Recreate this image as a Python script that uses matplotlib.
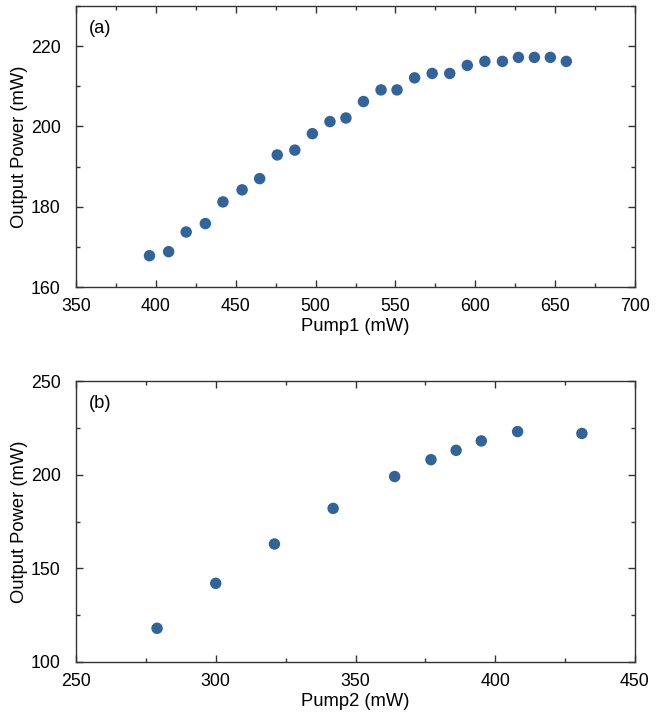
import matplotlib.pyplot as plt

plt.rcParams['font.family'] = ['Liberation Sans', 'DejaVu Sans']
plt.rcParams['font.size'] = 13.2

# Datos panel (a)
pump1 = [396, 408, 419, 431, 442, 454, 465, 476, 487, 498, 509,
         519, 530, 541, 551, 562, 573, 584, 595, 606, 617, 627, 637, 647, 657]
salida1 = [167.8, 168.8, 173.7, 175.8, 181.2, 184.2, 187.0, 192.9, 194.1, 198.2, 201.2,
           202.1, 206.2, 209.1, 209.1, 212.1, 213.2, 213.2, 215.2, 216.2, 216.2, 217.2, 217.2, 217.2, 216.2]

# Datos panel (b)
pump2 = [279, 300, 321, 342, 364, 377, 386, 395, 408, 431]
salida2 = [118, 142, 163, 182, 199, 208, 213, 218, 223, 222]

color = '#31649b'

fig = plt.figure(figsize=(6.66, 7.14), dpi=100)
ax1 = fig.add_axes([76/666, 1-287/714, 559/666, 281/714])
ax2 = fig.add_axes([76/666, 1-662/714, 559/666, 281/714])

def estilo(ax, xlim, ylim, xticks, yticks, xminor, yminor):
    ax.set_xlim(*xlim)
    ax.set_ylim(*ylim)
    ax.set_xticks(xticks)
    ax.set_yticks(yticks)
    ax.set_xticks(xminor, minor=True)
    ax.set_yticks(yminor, minor=True)
    ax.tick_params(which='both', direction='in', top=True, right=True, colors='#333333', labelcolor='black')
    ax.tick_params(which='major', length=5, width=1, labelsize=12.8)
    ax.tick_params(which='minor', length=3, width=1)
    ax.tick_params(axis='x', pad=8)
    ax.tick_params(axis='y', pad=11)
    for s in ax.spines.values():
        s.set_color('#333333')
        s.set_linewidth(1)

ax1.scatter(pump1, salida1, s=68, color=color, edgecolors='none', zorder=3)
estilo(ax1, (350, 700), (160, 230), range(350, 701, 50), range(160, 221, 20),
       range(375, 700, 50), range(170, 231, 20))
ax1.set_xlabel('Pump1 (mW)', labelpad=2)
ax1.set_ylabel('Output Power (mW)', labelpad=2)
ax1.text(0.023, 0.92, '(a)', transform=ax1.transAxes, va='center')

ax2.scatter(pump2, salida2, s=68, color=color, edgecolors='none', zorder=3)
estilo(ax2, (250, 450), (100, 250), range(250, 451, 50), range(100, 251, 50),
       range(275, 450, 50), range(125, 250, 50))
ax2.set_xlabel('Pump2 (mW)', labelpad=2)
ax2.set_ylabel('Output Power (mW)', labelpad=2)
ax2.text(0.023, 0.92, '(b)', transform=ax2.transAxes, va='center')

fig.savefig('out.png', dpi=100)
